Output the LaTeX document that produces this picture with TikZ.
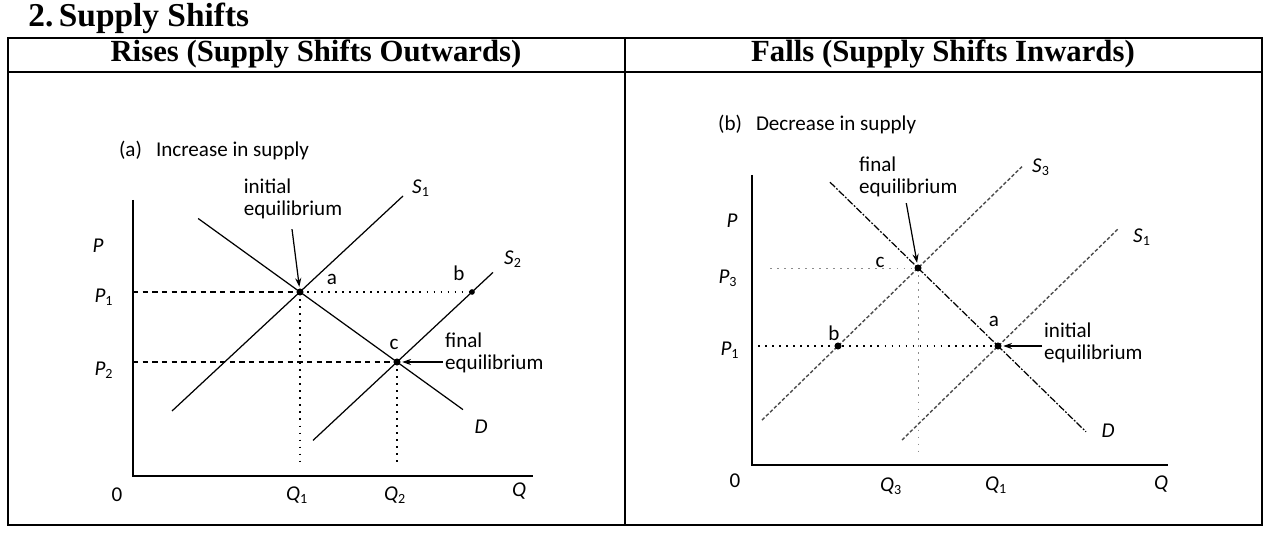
\documentclass[tikz,border=0pt]{standalone}
\usepackage{fontspec}
\setmainfont{Liberation Serif}
\newfontfamily\graphfont{Carlito}
\usetikzlibrary{calc, arrows.meta}

\newcommand{\gvar}[2]{\textit{#1}\textsubscript{#2}}

\begin{document}
\begin{tikzpicture}[x=0.02cm, y=-0.02cm,
    frame/.style = {line width=0.9pt},
    head/.style = {font=\bfseries\fontsize{17.5}{19}\selectfont, inner sep=0pt},
    gtext/.style = {font=\graphfont\fontsize{12}{12.5}\selectfont, inner sep=1pt},
    axis/.style = {line width=1.1pt},
    curve/.style = {line width=0.7pt},
    scurve/.style = {line width=0.8pt, black!70, dash pattern=on 2pt off 1.2pt},
    guide/.style = {line width=0.6pt, dash pattern=on 3pt off 2.5pt},
    dotline/.style = {line width=0.6pt, dash pattern=on 1pt off 3pt},
    faint/.style = {line width=0.5pt, black!45, dash pattern=on 1pt off 3pt},
    pointer/.style = {line width=0.7pt, -{Stealth[length=5pt, width=3.5pt]}, shorten >=3pt},
    eqdot/.style = {fill=black}
]
\useasboundingbox (0,0) rectangle (1267,536);

%table frame
\coordinate (TL) at (8,38);
\coordinate (BR) at (1262,525);
\coordinate (HL) at (8,72);
\coordinate (HR) at (1262,72);
\coordinate (MT) at (625,38);
\coordinate (MB) at (625,525);
\draw[frame] (TL) rectangle (BR);
\draw[frame] (HL) -- (HR);
\draw[frame] (MT) -- (MB);

\node[head, anchor=west, font=\bfseries\fontsize{19}{21}\selectfont] (title) at (28,18) {2.\,Supply Shifts};
\node[head] (hrise) at (316,54) {Rises (Supply Shifts Outwards)};
\node[head] (hfall) at (943,54) {Falls (Supply Shifts Inwards)};

%----- (a) increase in supply -----
\node[gtext, anchor=west] (capa) at (117,150) {(a)\hspace{8pt}Increase in supply};

\coordinate (ytop1) at (133,200);
\coordinate (O1) at (133,476);
\coordinate (xend1) at (533,476);
\draw[axis] (ytop1) -- (O1) -- (xend1);

\coordinate (a1) at (300,292);
\coordinate (b1) at (472,292);
\coordinate (c1) at (397,362);

%guide lines
\draw[guide] (ytop1 |- a1) -- (a1);
\draw[dotline] (a1) -- (b1);
\draw[guide] (ytop1 |- c1) -- (c1);
\draw[dotline] (a1) -- ($(a1 |- O1)+(0,-10)$);
\draw[dotline] (c1) -- ($(c1 |- O1)+(0,-10)$);

%curves
\draw[curve] ($(a1)!-1.05!(c1)$) -- ($(a1)!1.68!(c1)$) coordinate (D1end);
\draw[curve] ($(a1)+(-128,119)$) -- ($(a1)+(103,-96)$) coordinate (S1end);
\draw[curve] ($(c1)!-1.12!(b1)$) -- ($(c1)!1.28!(b1)$) coordinate (S2end);

\fill[eqdot] (a1) circle[radius=2pt];
\fill[eqdot] (b1) circle[radius=1.6pt];
\fill[eqdot] (c1) circle[radius=2pt];

\node[gtext] (la1) at (332,279) {a};
\node[gtext] (lb1) at (459,273) {b};
\node[gtext] (lc1) at (394,344) {c};
\node[gtext] (lS1a) at (421,188) {\gvar{S}{1}};
\node[gtext] (lS2a) at (513,259) {\gvar{S}{2}};
\node[gtext] (lDa) at (481,427) {\textit{D}};

\node[gtext] (lPa) at (98,246) {\textit{P}};
\node[gtext] (lP1a) at (104,297) {\gvar{P}{1}};
\node[gtext] (lP2a) at (104,370) {\gvar{P}{2}};
\node[gtext] (l0a) at (117,495) {0};
\node[gtext] (lQ1a) at (297,495) {\gvar{Q}{1}};
\node[gtext] (lQ2a) at (395,495) {\gvar{Q}{2}};
\node[gtext] (lQa) at (519,491) {\textit{Q}};

\node[gtext, align=left] (init1) at (293,199) {initial\\equilibrium};
\draw[pointer] ($(init1.south)+(-1,8)$) -- (a1);
\node[gtext, align=left, anchor=west] (final1) at (443,353) {final\\equilibrium};
\draw[pointer] (final1.west |- c1) -- (c1);

%----- (b) decrease in supply -----
\node[gtext, anchor=west] (capb) at (716,124) {(b)\hspace{8pt}Decrease in supply};

\coordinate (ytop2) at (752,175);
\coordinate (O2) at (752,465);
\coordinate (xend2) at (1168,465);
\draw[axis] (ytop2) -- (O2) -- (xend2);

\coordinate (a2) at (998,346);
\coordinate (b2) at (838,346);
\coordinate (c2) at (918,268);

%guide lines
\draw[dotline] ($(ytop2 |- a2)+(6,0)$) -- (a2);
\draw[faint] ($(ytop2 |- c2)+(18,0)$) -- (c2);
\draw[faint] (c2) -- ($(c2 |- O2)+(0,-12)$);

%curves
\draw[curve, dash pattern=on 4pt off 1pt on 1pt off 1pt] ($(c2)!-1.1!(a2)$) -- ($(c2)!2.1!(a2)$) coordinate (D2end);
\draw[scurve] ($(b2)!-0.95!(c2)$) -- ($(b2)!2.3!(c2)$) coordinate (S3end);
\draw[scurve] ($(a2)+(-96,94)$) -- ($(a2)+(120,-117)$) coordinate (S1bend);

\fill[eqdot] (a2) circle[radius=2pt];
\fill[eqdot] (b2) circle[radius=2pt];
\fill[eqdot] (c2) circle[radius=2pt];

\node[gtext] (la2) at (994,321) {a};
\node[gtext] (lb2) at (834,333) {b};
\node[gtext] (lc2) at (880,262) {c};
\node[gtext] (lS3b) at (1041,167) {\gvar{S}{3}};
\node[gtext] (lS1b) at (1142,237) {\gvar{S}{1}};
\node[gtext] (lDb) at (1108,431) {\textit{D}};

\node[gtext] (lPb) at (732,221) {\textit{P}};
\node[gtext] (lP3b) at (728,278) {\gvar{P}{3}};
\node[gtext] (lP1b) at (730,350) {\gvar{P}{1}};
\node[gtext] (l0b) at (735,481) {0};
\node[gtext] (lQ3b) at (891,486) {\gvar{Q}{3}};
\node[gtext] (lQ1b) at (996,485) {\gvar{Q}{1}};
\node[gtext] (lQb) at (1161,484) {\textit{Q}};

\node[gtext, align=left, anchor=west] (final2) at (857,177) {final\\equilibrium};
\draw[pointer] ($(final2.south)+(-2,4)$) -- (c2);
\node[gtext, align=left, anchor=west] (init2) at (1042,343) {initial\\equilibrium};
\draw[pointer] (init2.west |- a2) -- (a2);
\end{tikzpicture}
\end{document}
